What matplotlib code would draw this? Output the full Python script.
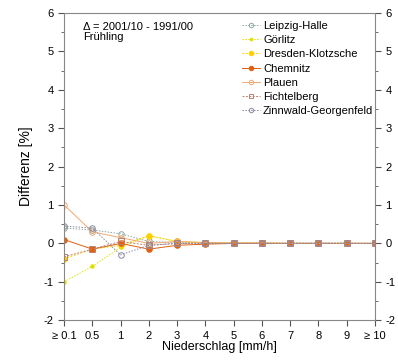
import matplotlib
matplotlib.use("Agg")
import matplotlib.pyplot as plt
from matplotlib.ticker import MultipleLocator

plt.rcParams['font.family'] = ['Liberation Sans', 'DejaVu Sans']
plt.rcParams['axes.unicode_minus'] = False

cats = ["≥ 0.1", "0.5", "1", "2", "3", "4", "5", "6", "7", "8", "9", "≥ 10"]

leipzig = [0.40, 0.35, 0.25, 0.05, 0.02, 0.02, 0.01, 0.01, 0.01, 0.01, 0.01, 0.0]
goerlitz = [-1.00, -0.60, -0.10, 0.20, 0.05, 0.02, 0.01, 0.01, 0.0, 0.0, 0.0, 0.0]
dresden = [-0.40, -0.15, -0.05, 0.20, 0.05, 0.02, 0.01, 0.0, 0.0, 0.0, 0.0, 0.0]
chemnitz = [0.10, -0.15, 0.00, -0.15, -0.05, -0.02, 0.0, 0.0, 0.0, 0.0, 0.0, 0.0]
plauen = [1.00, 0.30, 0.15, 0.00, 0.05, 0.02, 0.01, 0.01, 0.0, 0.0, 0.0, 0.0]
fichtelberg = [-0.35, -0.15, 0.05, -0.05, 0.00, 0.00, 0.0, 0.0, 0.0, 0.0, 0.0, 0.0]
zinnwald = [0.45, 0.40, -0.30, -0.05, 0.00, 0.00, 0.0, 0.0, 0.0, 0.0, 0.0, 0.0]

series = [
    ("Leipzig-Halle", leipzig, "#8fa89a", "o", "none", (0, (1.5, 1.5))),
    ("Görlitz", goerlitz, "#e0e000", ".", "#e0e000", (0, (1.5, 1.5))),
    ("Dresden-Klotzsche", dresden, "#ffd000", "o", "#ffd000", (0, (2, 1.5))),
    ("Chemnitz", chemnitz, "#e06010", "o", "#e06010", "-"),
    ("Plauen", plauen, "#f0a870", "o", "none", "-"),
    ("Fichtelberg", fichtelberg, "#c08070", "s", "none", (0, (2, 1.5))),
    ("Zinnwald-Georgenfeld", zinnwald, "#8888a0", "o", "none", (0, (1.5, 1.5))),
]

fig = plt.figure(figsize=(3.98, 3.63), dpi=100)
ax = fig.add_axes([0.161, 0.118, 0.781, 0.846])

x = list(range(len(cats)))
for name, vals, col, mk, fc, ls in series:
    ms = 4 if mk != "." else 5
    ax.plot(x, vals, color=col, linestyle=ls, linewidth=0.7, marker=mk,
            markersize=ms, markerfacecolor=fc, markeredgecolor=col,
            markeredgewidth=0.7, label=name)

ax.set_xlim(0, len(cats) - 1)
ax.set_ylim(-2, 6)
ax.set_xticks(x)
ax.set_xticklabels(cats)
ax.yaxis.set_major_locator(MultipleLocator(1))
ax.yaxis.set_minor_locator(MultipleLocator(0.5))
ax.tick_params(axis="both", which="both", direction="out", labelsize=8,
               colors="#555555", labelcolor="black")
ax.tick_params(axis="y", which="both", right=True, labelright=True)
ax.tick_params(which="major", length=4)
ax.tick_params(which="minor", length=2)
for s in ax.spines.values():
    s.set_color("#888888")
    s.set_linewidth(0.8)

ax.set_xlabel("Niederschlag [mm/h]", fontsize=9, labelpad=0)
ax.set_ylabel("Differenz [%]", fontsize=10, labelpad=8)

ax.text(0.06, 0.97, "Δ = 2001/10 - 1991/00\nFrühling", transform=ax.transAxes,
        fontsize=8, va="top", ha="left", linespacing=1.0)

ax.legend(loc="upper right", bbox_to_anchor=(1.02, 1.0), frameon=False,
          fontsize=8, handlelength=1.6, handletextpad=0.3, labelspacing=0.38,
          borderaxespad=0.3, markerscale=0.8)

fig.savefig("out.png", dpi=100)
